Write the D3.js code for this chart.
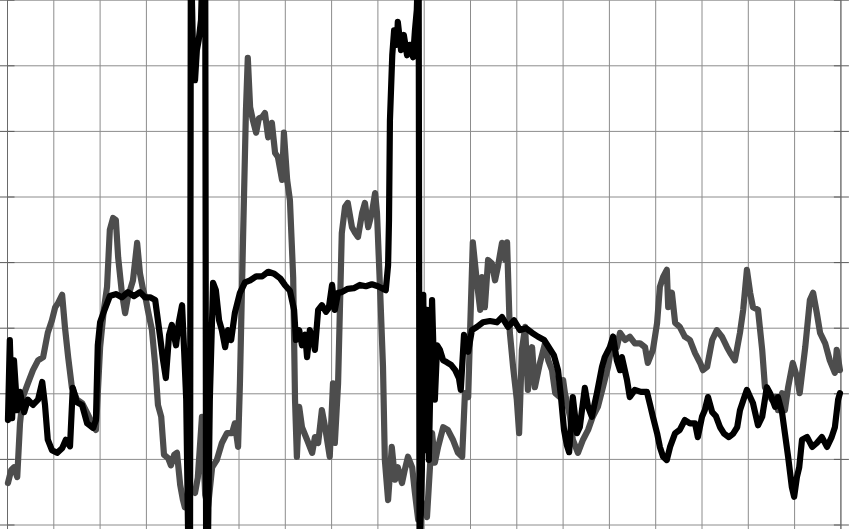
<!DOCTYPE html>
<html>
<head>
<meta charset="utf-8">
<script src="https://cdn.jsdelivr.net/npm/d3@7"></script>
<style>
html,body{margin:0;padding:0;background:#fff;overflow:hidden;}
svg{display:block;}
</style>
</head>
<body>
<svg id="chart" width="850" height="529"></svg>
<script>
// Grid ticks (no labels in the original)
const xTicks = d3.range(0, 181, 10);
const yTicks = d3.range(0, 81, 10);

// Black series [x, y]
const blackSeries = [
[0.1,16.0],[0.5,28.2],[1.0,16.3],[1.4,25.1],[2.1,17.5],[2.7,20.3],[3.6,17.2],[4.4,19.1],[5.5,18.3],[6.6,19.1],
[7.5,21.8],[8.1,18.3],[8.7,13.0],[9.6,11.4],[10.7,11.0],[11.8,11.7],[12.6,13.0],[13.5,12.0],[14.1,20.9],[15.0,18.7],
[16.1,18.3],[17.2,15.5],[18.5,14.8],[19.1,16.0],[19.5,27.4],[20.0,30.9],[20.8,32.5],[22.1,34.9],[23.4,35.2],[24.7,34.7],
[26.0,35.5],[27.3,34.9],[28.6,35.5],[29.7,34.7],[30.8,34.7],[31.9,34.3],[32.9,29.0],[33.6,25.1],[34.2,22.4],[34.9,29.0],
[35.5,30.5],[36.4,27.4],[37.0,30.9],[37.7,33.5],[38.1,27.4],[38.6,19.1],[39.1,-6],[39.4,-6],[39.6,88],[40.1,70.9],
[40.5,67.8],[40.9,72.4],[41.3,73.9],[41.8,77.0],[42.2,88],[42.7,88],[42.9,-6],[43.3,-2.3],[43.7,19.1],[44.4,36.9],
[45.0,35.8],[45.7,31.2],[46.3,29.7],[47.0,27.1],[47.6,29.7],[48.3,28.2],[49.1,32.3],[50.2,35.4],[51.3,37.0],[52.4,37.3],
[53.7,37.9],[55.0,37.9],[56.3,38.6],[57.6,38.3],[58.9,37.6],[59.9,36.6],[61.0,35.7],[61.9,32.8],[62.3,28.2],[63.0,29.7],
[63.6,27.4],[64.3,29.0],[64.7,25.6],[65.3,29.7],[66.0,28.2],[66.4,26.7],[67.1,32.8],[67.9,33.5],[68.8,32.5],[69.4,33.1],
[70.1,36.6],[70.7,32.8],[71.4,35.4],[72.2,35.5],[73.5,36.0],[74.8,36.1],[76.1,36.6],[77.4,36.4],[78.7,36.7],[80.0,36.4],
[81.1,36.0],[81.7,35.8],[82.2,39.6],[82.4,46.5],[82.6,61.7],[83.1,71.6],[83.5,75.4],[84.1,73.2],[84.3,76.7],[85.0,72.4],
[85.6,74.7],[86.3,71.6],[86.9,73.2],[87.6,71.3],[88.0,75.4],[88.4,78.5],[88.8,88],[89.0,-6],[89.5,8.4],[89.8,35.1],
[90.2,11.4],[90.6,32.8],[91.0,9.9],[91.7,34.3],[92.3,19.1],[92.8,27.4],[93.4,26.7],[94.1,25.1],[94.9,24.8],[95.8,24.4],
[96.7,23.6],[97.5,22.4],[97.9,20.6],[98.6,29.0],[99.5,26.4],[100.3,29.7],[101.4,30.2],[102.7,30.9],[104.2,31.1],[105.7,30.9],
[106.8,31.7],[108.1,30.2],[109.4,31.2],[110.7,29.7],[112.0,30.0],[113.3,29.3],[114.6,28.7],[115.9,28.2],[116.9,27.1],[118.0,25.9],
[118.9,23.6],[119.5,19.8],[120.2,14.5],[120.8,12.2],[121.3,11.1],[122.1,19.5],[123.0,14.0],[123.6,14.9],[124.7,20.9],[125.4,18.0],
[126.2,16.5],[127.3,20.1],[128.4,24.1],[129.0,25.6],[130.1,27.1],[130.8,28.7],[131.6,25.1],[132.3,23.6],[132.7,25.6],[133.8,22.1],
[134.4,19.5],[135.5,20.6],[136.8,20.3],[138.1,20.3],[138.8,18.3],[139.4,16.5],[140.3,14.0],[140.9,11.9],[141.6,10.4],[142.4,9.9],
[143.1,11.9],[144.2,14.0],[145.2,14.5],[146.3,16.0],[147.4,15.5],[148.5,15.5],[149.1,13.4],[150.0,16.5],[150.6,17.5],[151.3,19.5],
[152.2,17.2],[153.0,16.6],[153.9,14.9],[154.8,13.9],[155.8,13.4],[156.7,13.9],[157.6,14.9],[158.2,17.5],[159.1,19.4],[159.7,20.6],
[160.4,19.5],[161.0,18.6],[162.1,15.2],[163.0,16.5],[164.0,21.0],[164.7,20.1],[165.8,18.0],[166.4,19.5],[167.3,17.1],[167.9,14.0],
[168.6,10.4],[169.4,5.8],[169.9,4.3],[170.5,7.3],[171.0,8.8],[171.6,13.0],[172.7,13.4],[173.8,11.9],[174.8,12.5],[175.9,13.4],
[177.0,11.9],[178.0,13.4],[178.7,14.9],[179.4,19.1],[179.8,20.1]
];

// Gray series [x, y]
const graySeries = [
[0.1,6.4],[0.8,8.4],[1.4,8.8],[2.1,7.3],[2.7,15.5],[3.3,19.5],[4.4,21.6],[5.5,23.6],[6.6,25.1],[7.7,25.6],
[8.7,29.3],[9.6,31.2],[10.3,33.2],[10.9,33.8],[11.8,35.1],[12.4,30.2],[13.1,25.6],[13.9,21.0],[15.0,19.1],[16.1,18.6],
[17.2,17.1],[18.3,15.5],[19.1,14.5],[20.0,27.1],[20.8,32.8],[21.5,36.3],[22.1,45.0],[22.8,46.8],[23.4,46.5],[23.9,40.8],
[24.7,35.4],[25.4,32.3],[26.0,34.7],[27.1,37.3],[28.0,43.0],[28.6,38.4],[29.3,35.8],[29.9,34.3],[30.3,32.8],[31.2,29.7],
[31.9,24.4],[32.5,18.3],[33.2,16.5],[33.8,10.7],[34.7,10.2],[35.3,9.1],[36.0,10.7],[36.6,11.0],[37.3,6.1],[37.9,3.8],
[38.3,2.7],[38.9,4.3],[39.8,5.3],[40.5,4.9],[41.1,7.2],[42.0,16.5],[42.7,4.6],[43.3,2.7],[44.2,8.8],[45.2,9.9],
[46.3,12.5],[47.4,14.0],[48.5,14.0],[49.1,15.5],[49.8,11.9],[50.2,21.6],[50.9,44.5],[51.5,63.2],[51.9,71.2],[52.4,63.7],
[53.0,61.7],[53.7,59.8],[54.3,62.0],[55.0,62.2],[55.6,62.8],[56.3,59.1],[57.1,61.3],[57.8,56.7],[58.4,56.1],[59.3,52.6],
[59.7,59.8],[60.4,52.6],[61.0,49.5],[61.7,37.8],[62.1,19.1],[62.5,10.4],[63.0,18.0],[63.6,14.9],[64.7,13.0],[65.8,11.0],
[66.4,13.4],[67.1,12.5],[67.9,17.5],[68.6,14.9],[69.6,10.4],[70.3,21.6],[70.7,12.5],[71.4,21.6],[72.2,44.5],[72.9,48.5],
[73.5,49.1],[74.4,45.4],[75.1,44.5],[75.7,43.9],[76.6,47.6],[77.2,49.1],[77.9,45.4],[78.7,47.6],[79.4,50.6],[79.8,47.6],
[80.5,35.4],[81.1,24.1],[81.5,9.9],[82.2,3.8],[83.0,11.9],[83.7,6.9],[84.3,8.8],[85.2,6.4],[85.8,8.4],[86.5,10.4],
[87.4,8.8],[88.0,4.9],[88.7,0.8],[89.3,3.8],[89.9,2.7],[90.6,1.2],[91.3,9.5],[91.7,14.0],[92.3,9.5],[93.0,11.9],
[94.1,14.9],[95.1,14.5],[96.2,13.0],[97.3,11.0],[98.2,10.4],[98.8,20.1],[99.5,19.5],[99.9,29.3],[100.5,43.1],[101.4,36.9],
[102.1,32.8],[102.5,37.8],[103.1,33.2],[103.8,40.4],[104.6,39.9],[105.3,37.3],[105.9,39.3],[106.8,43.0],[107.5,40.4],[107.9,43.1],
[108.5,29.3],[109.2,24.1],[110.0,19.1],[110.5,14.0],[111.1,26.7],[111.8,30.2],[112.4,20.6],[113.3,27.1],[113.9,21.0],[115.0,24.7],
[116.1,27.7],[116.8,25.1],[117.6,23.6],[118.3,20.1],[119.3,19.5],[120.0,22.1],[120.4,20.1],[121.5,16.5],[122.1,13.0],[123.2,11.0],
[124.3,13.0],[125.4,14.5],[126.4,16.5],[127.5,18.0],[128.6,21.0],[129.7,24.1],[130.8,28.7],[131.6,27.1],[132.3,29.3],[133.4,28.2],
[134.4,28.7],[135.5,27.7],[136.6,27.7],[137.7,27.1],[138.3,24.7],[139.4,26.7],[140.3,30.8],[140.9,36.3],[141.6,37.8],[142.4,38.9],
[142.7,33.2],[143.5,35.4],[144.2,30.8],[145.2,30.2],[146.3,28.7],[147.4,28.2],[148.5,26.2],[149.6,24.7],[150.2,23.6],[151.1,24.1],
[152.2,28.2],[153.2,29.7],[154.3,28.7],[155.4,27.1],[156.1,26.2],[157.1,25.1],[158.2,29.3],[158.9,32.8],[159.7,38.9],[160.4,35.4],
[161.0,33.2],[162.1,32.8],[163.0,26.7],[163.6,21.0],[164.3,20.1],[165.1,19.1],[165.8,19.5],[166.4,17.5],[167.3,20.1],[167.9,17.5],
[168.6,21.0],[169.6,24.7],[170.5,22.6],[171.1,20.1],[172.3,27.1],[173.3,34.3],[174.0,35.4],[174.8,32.3],[175.5,29.3],[176.6,27.7],
[177.6,25.1],[178.7,23.2],[179.1,26.7],[179.8,23.6]
];

const W = 850, H = 529;
const svg = d3.select('#chart');

const x = d3.scaleLinear().domain([0, 180]).range([7.5, 840.9]);
const y = d3.scaleLinear().domain([0, 80]).range([525, 0.2]);

// grid
const grid = svg.append('g');
grid.selectAll('line.v').data(xTicks).enter().append('line')
  .attr('x1', d => x(d)).attr('x2', d => x(d))
  .attr('y1', y(80)).attr('y2', y(0) + 5)
  .attr('stroke', '#8c8c8c').attr('stroke-width', 1);
grid.selectAll('line.h').data(yTicks).enter().append('line')
  .attr('x1', x(0)).attr('x2', x(180))
  .attr('y1', d => y(d)).attr('y2', d => y(d))
  .attr('stroke', '#8c8c8c').attr('stroke-width', 1);

// axis ticks (unlabelled), left and right
const ticks = svg.append('g');
ticks.selectAll('line.l').data(yTicks).enter().append('line')
  .attr('x1', x(0) - 8).attr('x2', x(0) + 7)
  .attr('y1', d => y(d)).attr('y2', d => y(d))
  .attr('stroke', '#5a5a5a').attr('stroke-width', 1);
ticks.selectAll('line.r').data(yTicks).enter().append('line')
  .attr('x1', x(180) - 7).attr('x2', x(180) + 8)
  .attr('y1', d => y(d)).attr('y2', d => y(d))
  .attr('stroke', '#5a5a5a').attr('stroke-width', 1);
// axis borders
svg.append('line').attr('x1', x(0)).attr('x2', x(0)).attr('y1', 0).attr('y2', H)
  .attr('stroke', '#6a6a6a').attr('stroke-width', 1);
svg.append('line').attr('x1', x(180)).attr('x2', x(180)).attr('y1', 0).attr('y2', H)
  .attr('stroke', '#6a6a6a').attr('stroke-width', 1);

const line = d3.line().x(d => x(d[0])).y(d => y(d[1]));

svg.append('path').datum(graySeries)
  .attr('d', line).attr('fill', 'none')
  .attr('stroke', '#4d4d4d').attr('stroke-width', 6.2)
  .attr('stroke-linejoin', 'round').attr('stroke-linecap', 'round');

svg.append('path').datum(blackSeries)
  .attr('d', line).attr('fill', 'none')
  .attr('stroke', '#000').attr('stroke-width', 6.2)
  .attr('stroke-linejoin', 'round').attr('stroke-linecap', 'round');
</script>
</body>
</html>
